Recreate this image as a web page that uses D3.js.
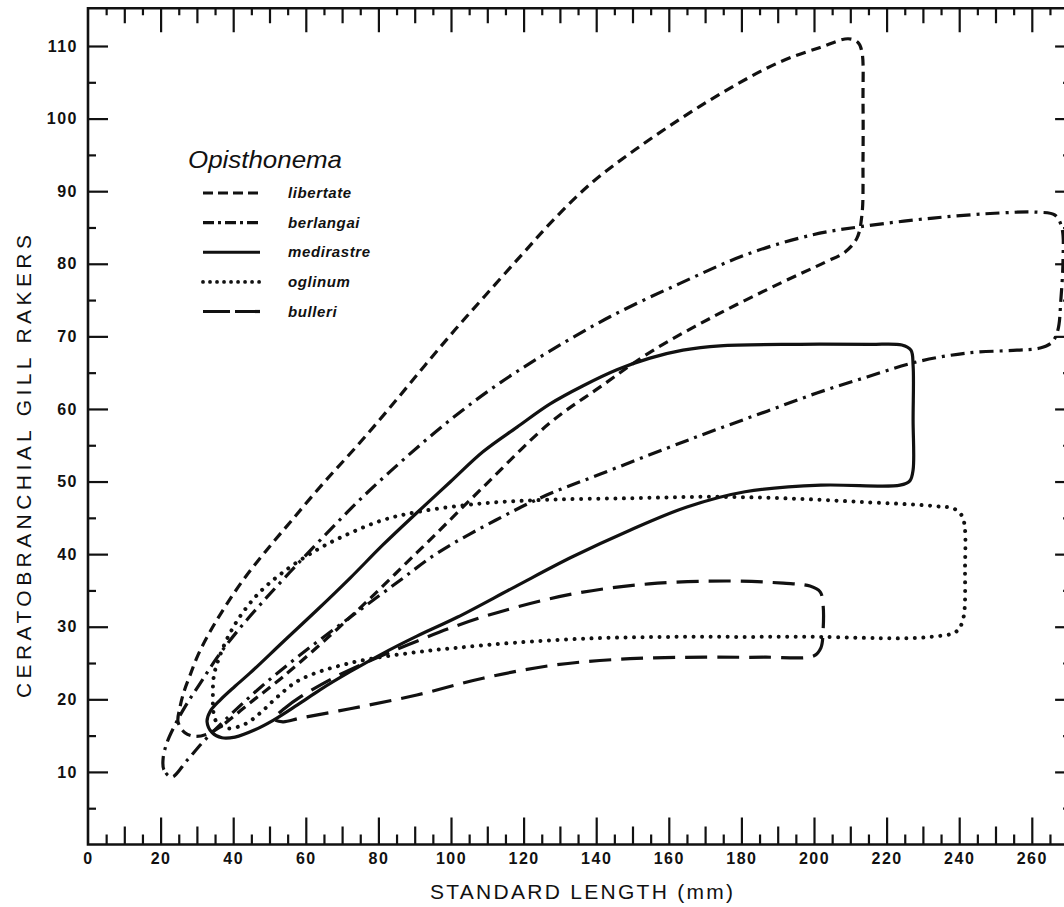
<!DOCTYPE html>
<html>
<head>
<meta charset="utf-8">
<script src="https://cdn.jsdelivr.net/npm/d3@7"></script>
<style>
  body { margin: 0; background: #fff; }
  svg { display: block; }
</style>
</head>
<body>
<svg id="chart" width="1064" height="907"></svg>
<script>
// Ranges of ceratobranchial gill-raker counts against standard length (mm)
// for five species of Opisthonema. Each outline is a closed envelope given as
// [standard length, gill rakers] points, traced clockwise from the small-fish tip.

const speciesNames = ["libertate", "berlangai", "medirastre", "oglinum", "bulleri"];

const libertate = [
  [26.7, 15.4], [24.8, 16.9], [25.3, 18.8], [26.4, 21.0], [28.1, 23.3], [30.3, 26.1],
  [33.6, 29.3], [37.7, 32.7], [42.7, 36.4], [48.8, 40.3], [56.2, 44.7], [64.7, 49.7],
  [74.1, 54.9], [83.7, 60.5], [92.8, 66.0], [101.1, 70.9], [109.4, 75.6], [119.6, 81.3],
  [128.7, 86.3], [139.1, 91.3], [150.7, 95.7], [163.6, 100.1], [176.9, 104.2], [190.6, 107.8],
  [201.7, 109.8], [209.4, 111.0], [212.1, 110.5], [213.2, 109.2], [213.5, 102.5], [213.5, 94.3],
  [213.2, 86.7], [211.8, 83.5], [208.5, 81.6], [203.0, 80.2], [190.6, 77.3], [172.2, 72.7],
  [154.8, 67.8], [141.0, 63.0], [127.3, 58.1], [108.8, 49.2], [90.6, 40.2], [72.2, 31.3],
  [53.7, 23.1], [44.6, 19.5], [36.4, 16.2], [32.8, 15.2], [29.5, 14.9]
];

const berlangai = [
  [23.1, 9.3], [20.9, 10.3], [20.7, 11.9], [21.8, 14.1], [24.0, 16.5], [27.0, 19.2],
  [30.9, 22.2], [35.5, 25.7], [41.0, 29.3], [47.9, 33.3], [55.6, 37.5], [64.5, 42.2],
  [74.9, 47.5], [87.3, 53.2], [100.3, 58.7], [113.5, 63.6], [127.3, 68.0], [143.8, 72.7],
  [163.1, 77.3], [181.5, 81.3], [199.7, 84.0], [212.7, 85.1], [232.8, 86.3], [251.2, 87.0],
  [261.7, 87.1], [266.4, 86.7], [268.3, 84.9], [268.6, 80.5], [268.0, 75.0], [267.2, 70.9],
  [265.6, 69.2], [262.3, 68.4], [255.9, 68.1], [242.1, 67.7], [228.4, 66.5], [214.6, 64.4],
  [200.8, 62.2], [187.1, 59.7], [173.3, 57.2], [159.5, 54.6], [141.0, 51.0], [126.2, 48.1],
  [112.4, 44.7], [96.4, 40.2], [86.0, 36.4], [72.2, 31.3], [58.4, 26.1], [47.4, 21.6],
  [39.1, 17.8], [32.2, 14.4], [27.3, 11.6]
];

const medirastre = [
  [32.8, 16.9], [33.6, 18.3], [36.4, 19.9], [40.5, 21.8], [44.6, 23.6], [53.7, 27.9],
  [63.1, 32.3], [72.2, 36.7], [81.3, 41.3], [90.6, 45.7], [99.7, 49.9], [108.8, 54.1],
  [118.2, 57.5], [127.3, 60.7], [136.4, 63.2], [145.7, 65.4], [154.8, 67.0], [163.9, 68.1],
  [174.1, 68.7], [196.1, 68.9], [215.4, 68.9], [224.2, 68.8], [226.7, 68.1], [227.3, 66.0],
  [227.3, 58.5], [227.3, 51.6], [226.4, 50.1], [223.7, 49.5], [201.9, 49.5], [181.0, 48.6],
  [165.0, 46.5], [149.3, 43.3], [133.3, 39.6], [117.6, 35.5], [101.7, 31.3], [90.6, 28.7],
  [80.4, 26.1], [72.2, 23.8], [63.9, 21.3], [57.6, 19.2], [51.0, 17.1], [46.0, 15.8],
  [40.5, 14.8], [36.9, 14.7], [34.2, 15.4]
];

const oglinum = [
  [34.7, 17.8], [34.4, 20.6], [34.7, 23.3], [36.4, 26.1], [39.1, 29.1], [42.7, 32.0],
  [47.4, 34.8], [53.7, 37.5], [63.1, 40.6], [72.2, 42.9], [81.3, 44.7], [90.6, 45.8],
  [108.8, 47.0], [127.3, 47.5], [149.3, 47.7], [170.5, 47.9], [191.5, 47.7], [212.7, 47.2],
  [233.6, 46.6], [238.8, 46.2], [241.0, 45.0], [241.6, 37.8], [241.0, 30.9], [239.1, 29.3],
  [232.0, 28.6], [223.1, 28.4], [201.9, 28.6], [181.0, 28.6], [159.8, 28.6], [138.8, 28.4],
  [117.6, 27.8], [101.7, 27.1], [90.6, 26.5], [72.2, 25.0], [58.4, 22.7], [52.1, 20.3],
  [47.4, 18.1], [43.3, 16.6], [38.6, 16.0], [35.8, 16.6]
];

const bulleri = [
  [51.2, 17.3], [54.3, 18.8], [58.4, 20.3], [68.6, 23.2], [81.3, 26.1], [90.6, 28.0],
  [99.7, 29.8], [112.4, 31.9], [133.3, 34.5], [154.5, 35.9], [175.8, 36.3], [191.5, 36.0],
  [198.9, 35.6], [201.7, 34.8], [202.5, 33.0], [202.5, 29.5], [201.9, 27.1], [200.0, 26.0],
  [186.2, 25.8], [170.2, 25.8], [149.3, 25.6], [128.1, 24.7], [108.8, 22.9], [90.6, 20.6],
  [72.2, 18.7], [58.4, 17.4], [53.7, 16.9]
];

const xTickValues = [0, 20, 40, 60, 80, 100, 120, 140, 160, 180, 200, 220, 240, 260];
const yTickValues = [10, 20, 30, 40, 50, 60, 70, 80, 90, 100, 110];
const legendTitle = "Opisthonema";
const xTitle = "STANDARD LENGTH (mm)";
const yTitle = "CERATOBRANCHIAL GILL RAKERS";

// ---- drawing ----
const outlines = { libertate, berlangai, medirastre, oglinum, bulleri };

const lineStyle = {
  libertate:  { dash: "10,6",        cap: "butt",  legendDash: "10,5" },
  berlangai:  { dash: "14,6,3,6",    cap: "butt",  legendDash: "11,4,3,4" },
  medirastre: { dash: null,          cap: "butt",  legendDash: null },
  oglinum:    { dash: "0.01,8.5",    cap: "round", legendDash: "0.01,7" },
  bulleri:    { dash: "22,10",       cap: "butt",  legendDash: "27,5" }
};

const svg = d3.select("#chart");
svg.append("rect").attr("width", 1064).attr("height", 907).attr("fill", "#fff");

const x = d3.scaleLinear().domain([0, 270]).range([88, 88 + 270 * 3.63]);
const y = d3.scaleLinear().domain([0, 110]).range([844.5, 46]);
const yTop = 115.2;

const tickFont = "'Liberation Sans', Arial, sans-serif";

// Frame
const frame = svg.append("g").attr("stroke", "#111").attr("stroke-width", 2.6).attr("fill", "none");
frame.append("path")
  .attr("d", `M${x(270)},${y(yTop)} H${x(0)} V${y(0)} H${x(270)}`);

// Bottom axis: long ticks at 20s (labelled), medium at 10s, short at 5s, pointing inward
function styleAxis(g) {
  g.select(".domain").remove();
  g.selectAll(".tick line").attr("stroke", "#111").attr("stroke-width", 2.2);
}
const axisBottomG = svg.append("g").attr("transform", `translate(0,${y(0)})`);
axisBottomG.append("g").call(d3.axisBottom(x).tickValues(d3.range(5, 270, 10)).tickSize(-10).tickFormat(""))
  .call(styleAxis);
axisBottomG.append("g").call(d3.axisBottom(x).tickValues(d3.range(10, 270, 20)).tickSize(-18).tickFormat(""))
  .call(styleAxis);
axisBottomG.append("g").call(d3.axisBottom(x).tickValues(xTickValues).tickSize(-27).tickPadding(8).tickFormat(d => d))
  .call(styleAxis)
  .call(g => g.selectAll(".tick text")
    .attr("font-family", tickFont).attr("font-weight", "bold").attr("font-size", 16)
    .attr("letter-spacing", "1.5px").attr("fill", "#111"));
axisBottomG.selectAll(".tick").filter(d => d === 0).select("line").remove();

// Top axis mirrors the bottom one, ticks hanging down from the frame
const axisTopG = svg.append("g").attr("transform", `translate(0,${y(yTop)})`);
axisTopG.append("g").call(d3.axisTop(x).tickValues(d3.range(5, 270, 10)).tickSize(-7).tickFormat("")).call(styleAxis);
axisTopG.append("g").call(d3.axisTop(x).tickValues(d3.range(10, 270, 20)).tickSize(-15).tickFormat("")).call(styleAxis);
axisTopG.append("g").call(d3.axisTop(x).tickValues(d3.range(20, 270, 20)).tickSize(-24).tickFormat("")).call(styleAxis);

// Left axis: labelled ticks at 10s, short ticks at 5s
const axisLeftG = svg.append("g").attr("transform", `translate(${x(0)},0)`);
axisLeftG.append("g").call(d3.axisLeft(y).tickValues(d3.range(5, 115, 10)).tickSize(-8).tickFormat("")).call(styleAxis);
axisLeftG.append("g").call(d3.axisLeft(y).tickValues(yTickValues).tickSize(-20).tickPadding(10).tickFormat(d => d))
  .call(styleAxis)
  .call(g => g.selectAll(".tick text")
    .attr("font-family", tickFont).attr("font-weight", "bold").attr("font-size", 16)
    .attr("letter-spacing", "1.5px").attr("fill", "#111"));

// Right axis: ticks point back into the plot
const axisRightG = svg.append("g").attr("transform", `translate(${x(270)},0)`);
axisRightG.append("g").call(d3.axisRight(y).tickValues(d3.range(10, 115, 10)).tickSize(-13).tickFormat("")).call(styleAxis);
axisRightG.append("g").call(d3.axisRight(y).tickValues(d3.range(5, 115, 10)).tickSize(-5).tickFormat("")).call(styleAxis);

// Axis titles
svg.append("text")
  .attr("x", 430).attr("y", 899)
  .attr("textLength", 303).attr("lengthAdjust", "spacing")
  .attr("font-family", tickFont).attr("font-size", 21).attr("fill", "#111")
  .text(xTitle);

svg.append("text")
  .attr("transform", `translate(31,698) rotate(-90)`)
  .attr("textLength", 463).attr("lengthAdjust", "spacing")
  .attr("font-family", tickFont).attr("font-size", 21).attr("fill", "#111")
  .text(yTitle);

// Envelopes
const outline = d3.line()
  .x(d => x(d[0]))
  .y(d => y(d[1]))
  .curve(d3.curveCatmullRomClosed.alpha(0.5));

const plot = svg.append("g").attr("fill", "none").attr("stroke", "#111");
speciesNames.forEach(name => {
  const st = lineStyle[name];
  plot.append("path")
    .datum(outlines[name])
    .attr("d", outline)
    .attr("stroke-width", name === "oglinum" ? 4 : 3.2)
    .attr("stroke-linecap", st.cap)
    .attr("stroke-linejoin", "round")
    .attr("stroke-dasharray", st.dash);
});

// Legend
const legend = svg.append("g");
legend.append("text")
  .attr("x", 188).attr("y", 168)
  .attr("textLength", 154).attr("lengthAdjust", "spacingAndGlyphs")
  .attr("font-family", tickFont).attr("font-style", "italic").attr("font-size", 24).attr("fill", "#111")
  .text(legendTitle);

const rowY = d3.scaleLinear().domain([0, 4]).range([193, 311.5]);
speciesNames.forEach((name, i) => {
  const st = lineStyle[name];
  const yy = rowY(i);
  legend.append("line")
    .attr("x1", 203).attr("x2", 260).attr("y1", yy).attr("y2", yy)
    .attr("stroke", "#111")
    .attr("stroke-width", name === "oglinum" ? 3.8 : 3.2)
    .attr("stroke-linecap", st.cap)
    .attr("stroke-dasharray", st.legendDash);
  legend.append("text")
    .attr("x", 288).attr("y", yy + 5)
    .attr("font-family", tickFont).attr("font-style", "italic").attr("font-weight", "bold")
    .attr("font-size", 15).attr("letter-spacing", "0.6px").attr("fill", "#111")
    .text(name);
});
</script>
</body>
</html>
